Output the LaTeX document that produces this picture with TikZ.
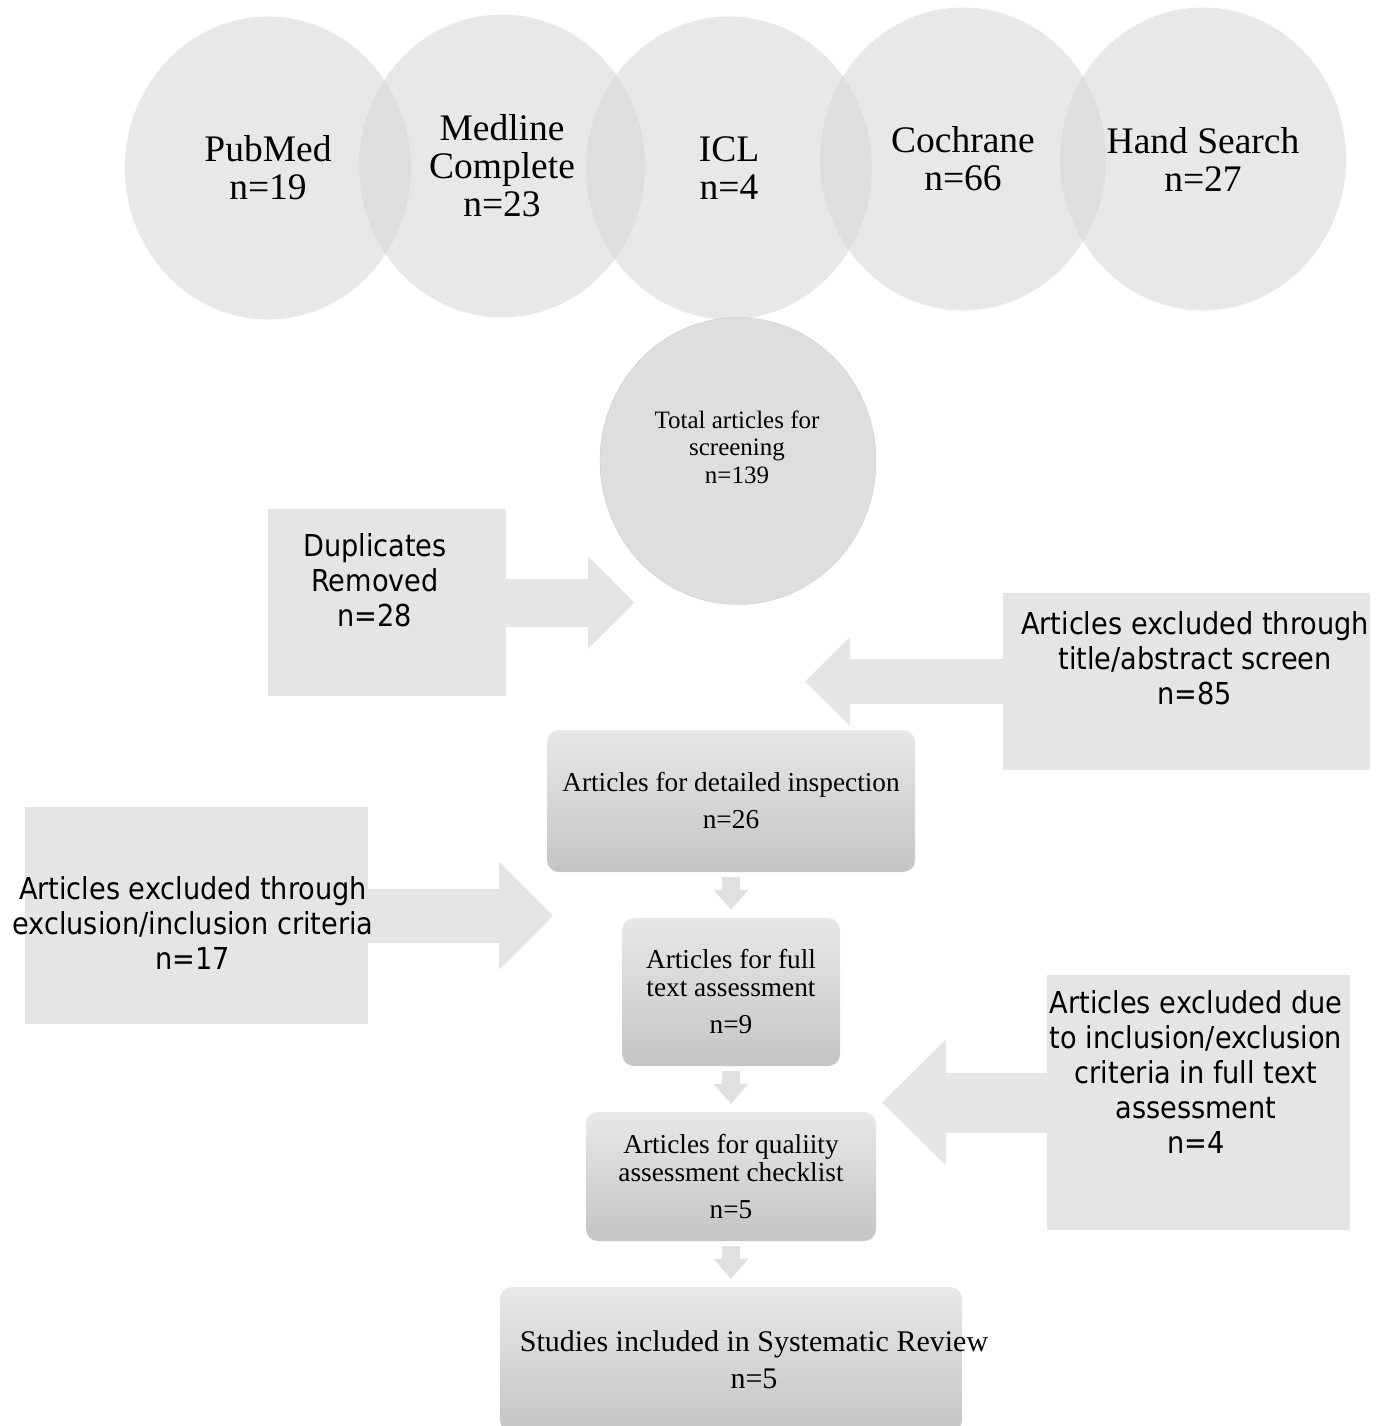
\documentclass[tikz,border=0pt]{standalone}
\usepackage{fontspec}
\setmainfont{Liberation Serif}
\newfontfamily\tahoma{DejaVu Sans Condensed}
\usetikzlibrary{shapes.geometric,arrows.meta,backgrounds}

\begin{document}
\begin{tikzpicture}[x=1pt, y=-1pt]
    \tikzstyle{src} = [shape=ellipse, fill=black!16, fill opacity=0.55, text opacity=1, inner sep=0pt, minimum width=286pt, minimum height=303pt, align=center, font=\fontsize{37.5}{38}\selectfont]
    \tikzstyle{tot} = [shape=ellipse, fill=black!13, draw=black!20, inner sep=0pt, minimum width=276pt, minimum height=287pt]
    \tikzstyle{exc} = [shape=rectangle, fill=black!10, inner sep=0pt]
    \tikzstyle{stage} = [shape=rectangle, rounded corners=12pt, top color=black!9, bottom color=black!23, inner sep=0pt, align=center, font=\fontsize{27.3}{28}\selectfont]
    \tikzstyle{sanstxt} = [align=center, font=\tahoma\fontsize{30.2}{35}\selectfont]
    \tikzstyle{smallarr} = [black!12, line width=18pt, -{Triangle[length=20pt, width=35pt, line width=0pt]}, shorten <=5pt, shorten >=8pt]
    \useasboundingbox (0,0) rectangle (1388,1426);

    % databases
    \node (pubmed)   [src] at (268,168)  {PubMed\\n=19};
    \node (medline)  [src] at (502,166)  {Medline\\Complete\\n=23};
    \node (icl)      [src] at (729,168)  {ICL\\n=4};
    \node (cochrane) [src] at (963,159)  {Cochrane\\n=66};
    \node (hand)     [src] at (1203,159) {Hand Search\\n=27};

    \node (total) [tot] at (738,461) {};
    \node (totaltxt) [align=center, font=\fontsize{25}{27.5}\selectfont] at (737,447) {Total articles for\\screening\\n=139};

    % excluded boxes
    \node (dup)   [exc, minimum width=238pt, minimum height=187pt] at (387,602.5) {};
    \node (duptxt) [sanstxt] at (375,580) {Duplicates\\Removed\\n=28};
    \node (excl1) [exc, minimum width=367pt, minimum height=177pt] at (1186.5,681.5) {};
    \node (excl1txt) [sanstxt] at (1195,658) {Articles excluded through\\title/abstract screen\\n=85};
    \node (excl2) [exc, minimum width=343pt, minimum height=217pt] at (196.5,915.5) {};
    \node (excl2txt) [sanstxt] at (193,923) {Articles excluded through\\exclusion/inclusion criteria\\n=17};
    \node (excl3) [exc, minimum width=303pt, minimum height=255pt] at (1198.5,1102.5) {};
    \node (excl3txt) [sanstxt] at (1196,1072) {Articles excluded due\\to inclusion/exclusion\\criteria in full text\\assessment\\n=4};

    % stages
    \node (detail)   [stage, minimum width=368pt, minimum height=142pt] at (731,801)    {Articles for detailed inspection\\[9pt]n=26};
    \node (fulltext) [stage, minimum width=218pt, minimum height=148pt] at (731,992)    {Articles for full\\text assessment\\[9pt]n=9};
    \node (quality)  [stage, minimum width=290pt, minimum height=129pt] at (731,1176.5) {Articles for qualiity\\assessment checklist\\[9pt]n=5};
    \node (final)    [stage, minimum width=462pt, minimum height=145pt] at (731,1359.5) {};
    \node (finaltxt) [align=center, font=\fontsize{30}{37}\selectfont] at (754,1360) {Studies included in Systematic Review\\n=5};

    \coordinate (duptip) at (634,602.5);
    \coordinate (ex1tip) at (805,681.5);
    \coordinate (ex2tip) at (553,915.5);
    \coordinate (ex3tip) at (882,1102.5);

    \begin{scope}[on background layer]
        \draw [black!10, line width=48pt, -{Triangle[length=46pt, width=93pt, line width=0pt]}] (dup.east) -- (duptip);
        \draw [black!10, line width=45pt, -{Triangle[length=45pt, width=89pt, line width=0pt]}] (excl1.west) -- (ex1tip);
        \draw [black!10, line width=54pt, -{Triangle[length=54pt, width=108pt, line width=0pt]}] (excl2.east) -- (ex2tip);
        \draw [black!10, line width=60pt, -{Triangle[length=64pt, width=126pt, line width=0pt]}] (excl3.west) -- (ex3tip);
        \foreach \a/\b in {detail/fulltext, fulltext/quality, quality/final}
            \draw [smallarr] (\a) -- (\b);
    \end{scope}
\end{tikzpicture}
\end{document}
